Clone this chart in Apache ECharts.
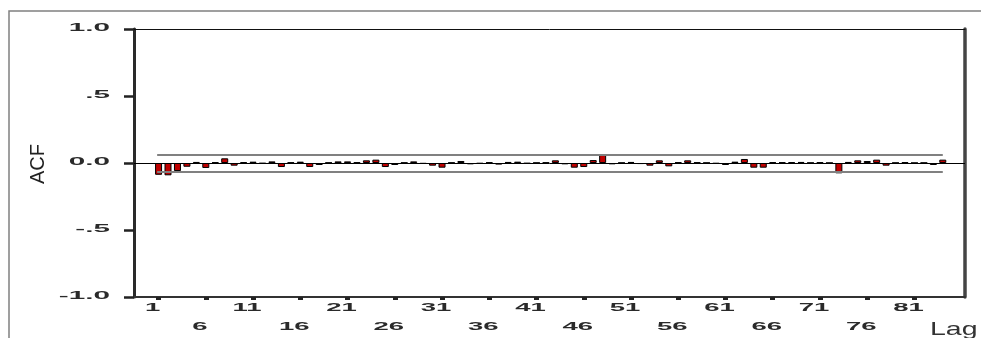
<!DOCTYPE html>
<html>
<head>
<meta charset="utf-8">
<script src="https://cdn.jsdelivr.net/npm/echarts@6/dist/echarts.min.js"></script>
<style>
  html, body { margin: 0; padding: 0; background: #fff; }
  #chart { width: 981px; height: 338px; }
</style>
</head>
<body>
<div id="chart"></div>
<script>
// ACF values, lag 1..84
const acf = [
  -0.088, -0.092, -0.060, -0.028, 0.008, -0.037, 0.005, 0.035, -0.020, 0.006,
  0.010, -0.004, 0.012, -0.030, 0.004, 0.010, -0.030, -0.015, 0.003, 0.012,
  0.012, 0.005, 0.020, 0.025, -0.030, -0.015, 0.003, 0.012, -0.006, -0.020,
  -0.035, 0.003, 0.015, -0.010, -0.005, 0.005, -0.012, 0.008, 0.010, -0.004,
  0.002, 0.004, 0.020, -0.010, -0.035, -0.030, 0.022, 0.060, -0.010, 0.002,
  0.008, -0.008, -0.020, 0.020, -0.025, 0.005, 0.020, 0.005, 0.002, -0.005,
  -0.015, 0.010, 0.030, -0.035, -0.035, 0.006, 0.005, 0.006, 0.008, 0.002,
  0.005, 0.001, -0.077, 0.008, 0.020, 0.015, 0.025, -0.020, 0.002, 0.006,
  0.001, 0.002, -0.015, 0.025
];
const lags = acf.map((v, i) => i + 1);
const tickLags = [1, 6, 11, 16, 21, 26, 31, 36, 41, 46, 51, 56, 61, 66, 71, 76, 81];
const yTicks = [1, 0.5, 0, -0.5, -1];
const yTickLabels = ['1.0', '.5', '0.0', '-.5', '-1.0'];
const confLimit = 0.062; // confidence limits

const chart = echarts.init(document.getElementById('chart'));

const hidden = { show: false };
const option = {
  animation: false,
  backgroundColor: '#fff',
  grid: { left: 134, right: 16, top: 29, bottom: 41 },
  xAxis: [
    {
      type: 'value', min: -1.6, max: 86.35, position: 'bottom',
      axisLine: { show: true, onZero: false, lineStyle: { color: '#333', width: 2 } },
      axisTick: { show: true, customValues: tickLags, length: 3, lineStyle: { color: '#222', width: 5 } },
      axisLabel: hidden, splitLine: hidden
    },
    {
      type: 'value', min: -1.6, max: 86.35, position: 'top',
      axisLine: { show: true, onZero: false, lineStyle: { color: '#111', width: 1 } },
      axisTick: hidden, axisLabel: hidden, splitLine: hidden
    }
  ],
  yAxis: [
    {
      type: 'value', min: -1, max: 1, interval: 0.5, position: 'left',
      axisLine: { show: true, onZero: false, lineStyle: { color: '#2a2a2a', width: 3 } },
      axisTick: { show: true, length: 10, lineStyle: { color: '#222', width: 2.5 } },
      axisLabel: hidden, splitLine: hidden
    },
    {
      type: 'value', min: -1, max: 1, interval: 0.5, position: 'right',
      axisLine: { show: true, onZero: false, lineStyle: { color: '#444', width: 3.5 } },
      axisTick: hidden, axisLabel: hidden, splitLine: hidden
    }
  ],
  series: [{
    type: 'bar',
    data: lags.map((l, i) => [l, acf[i]]),
    barWidth: 7,
    itemStyle: { color: '#c00000', borderColor: '#000', borderWidth: 1 },
    markLine: {
      silent: true, symbol: 'none', label: { show: false },
      lineStyle: { color: '#808080', width: 2, type: 'solid' },
      data: [
        { yAxis: 0, lineStyle: { color: '#000', width: 1, type: 'solid' } },
        [{ coord: [0.85, confLimit] }, { coord: [84, confLimit] }],
        [{ coord: [0.85, -confLimit] }, { coord: [84, -confLimit] }]
      ]
    }
  }]
};
chart.setOption(option);

// stretched SPSS-like labels, placed through the axes
const font = { fontFamily: 'Liberation Sans', fontWeight: 'bold', fill: '#2a2a2a' };
const g = [{
  type: 'rect', silent: true,
  shape: { x: 9, y: 11, width: 1200, height: 600 },
  style: { fill: 'none', stroke: '#808080', lineWidth: 1.5 }
}];
yTicks.forEach((v, i) => {
  const py = chart.convertToPixel({ yAxisIndex: 0 }, v);
  g.push({
    type: 'text', x: 110, y: py - 1, scaleX: 2.7,
    style: Object.assign({ text: yTickLabels[i], fontSize: 11, align: 'right', textAlign: 'right',
      verticalAlign: 'middle', textVerticalAlign: 'middle' }, font)
  });
});
tickLags.forEach((l, i) => {
  const px = chart.convertToPixel({ xAxisIndex: 0 }, l) - 6;
  g.push({
    type: 'text', x: px, y: i % 2 === 0 ? 307.5 : 327, scaleX: 2.5,
    style: Object.assign({ text: String(l), fontSize: 11, align: 'center', textAlign: 'center',
      verticalAlign: 'middle', textVerticalAlign: 'middle' }, font)
  });
});
g.push({
  type: 'text', x: 38, y: 164, rotation: Math.PI / 2,
  style: { text: 'ACF', fontSize: 20, fontFamily: 'Liberation Sans', fill: '#222', align: 'center',
    textAlign: 'center', verticalAlign: 'middle', textVerticalAlign: 'middle' }
});
g.push({
  type: 'text', x: 930, y: 330, scaleX: 1.5,
  style: { text: 'Lag', fontSize: 19, fontFamily: 'Liberation Sans', fill: '#333', align: 'left',
    textAlign: 'left', verticalAlign: 'middle', textVerticalAlign: 'middle' }
});
chart.setOption({ graphic: g });
</script>
</body>
</html>
